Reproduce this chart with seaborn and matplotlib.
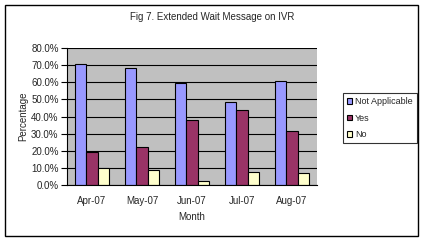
import matplotlib
matplotlib.use("Agg")
import matplotlib.pyplot as plt
import seaborn as sns
import pandas as pd
from matplotlib.patches import Rectangle
from matplotlib.ticker import FuncFormatter, FixedLocator

months = ["Apr-07", "May-07", "Jun-07", "Jul-07", "Aug-07"]
not_applicable = [70.6, 68.3, 59.5, 48.4, 60.9]
yes = [19.5, 22.2, 38.0, 43.9, 31.6]
no = [9.8, 8.8, 2.3, 7.6, 7.0]
series = ["Not Applicable", "Yes", "No"]
colors = ["#9999FF", "#993366", "#FFFFCC"]

df = pd.DataFrame({
    "Month": months * 3,
    "Series": [series[0]] * 5 + [series[1]] * 5 + [series[2]] * 5,
    "Value": not_applicable + yes + no,
})

sns.set_style("white")
plt.rcParams["font.family"] = ["Liberation Sans", "DejaVu Sans"]
plt.rcParams["font.size"] = 7

fig = plt.figure(figsize=(4.25, 2.4), dpi=100)
ax = fig.add_axes([67 / 425, 1 - 185 / 240, 250 / 425, 137 / 240])
ax.set_facecolor("#C0C0C0")

sns.barplot(data=df, x="Month", y="Value", hue="Series", palette=colors,
            width=0.68, edgecolor="black", linewidth=0.8, ax=ax, saturation=1)

ax.set_ylim(0, 80)
ax.set_xlim(-0.5, 4.5)
ax.set_yticks(range(0, 81, 10))
ax.yaxis.set_major_formatter(FuncFormatter(lambda v, p: f"{v:.1f}%"))
ax.yaxis.grid(True, color="black", linewidth=0.8)
ax.set_axisbelow(True)
for s in ["top", "right"]:
    ax.spines[s].set_visible(False)
ax.spines["left"].set_color("black")
ax.spines["bottom"].set_color("black")
ax.spines["left"].set_linewidth(0.8)
ax.spines["bottom"].set_linewidth(0.8)
ax.tick_params(axis="x", which="major", length=0, pad=8)
ax.xaxis.set_minor_locator(FixedLocator([-0.5, 0.5, 1.5, 2.5, 3.5, 4.5]))
ax.tick_params(axis="x", which="minor", length=4, color="black", width=0.8)
ax.tick_params(axis="y", which="major", length=4, color="black", width=0.8, left=True, pad=2)
ax.set_xlabel("Month", labelpad=4)
ax.set_ylabel("Percentage", labelpad=2)

leg = ax.legend(loc="upper left", bbox_to_anchor=(343 / 425, 1 - 93 / 240),
                bbox_transform=fig.transFigure, frameon=True, fancybox=False,
                edgecolor="black", handlelength=0.6, handleheight=0.6,
                handletextpad=0.3, labelspacing=0.85, borderpad=0.45,
                borderaxespad=0, fontsize=6.5)
leg.get_frame().set_linewidth(0.8)

fig.text(0.5, 1 - 17 / 240, "Fig 7. Extended Wait Message on IVR", ha="center", va="center", fontsize=7)
fig.patches.append(Rectangle((5 / 425, 4 / 240), 413 / 425, 231 / 240, transform=fig.transFigure,
                             fill=False, edgecolor="black", linewidth=1.0))

fig.savefig("out.png", dpi=100)
